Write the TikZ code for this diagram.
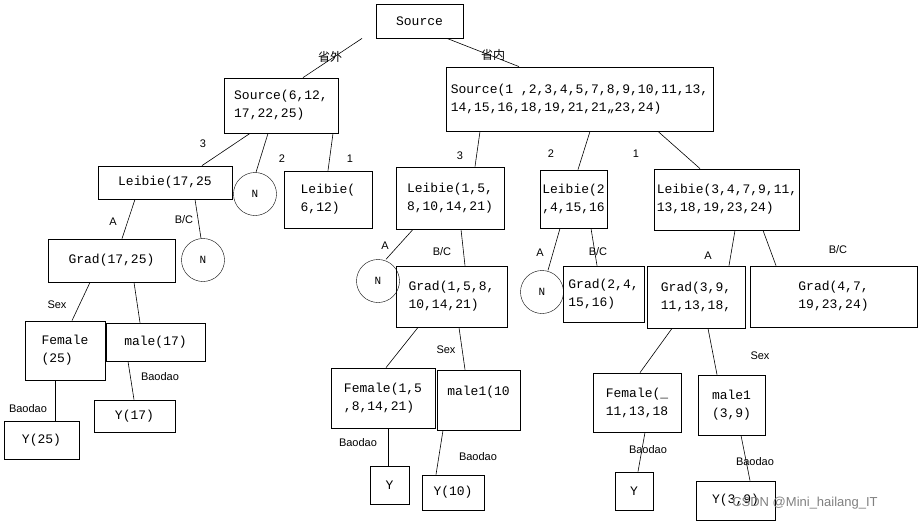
\documentclass[tikz,border=0pt]{standalone}
\usetikzlibrary{calc}
\usepackage{fontspec}
\setmainfont{Liberation Mono}
\newfontfamily\lab{Liberation Sans}
\newfontfamily\cjk{Noto Sans CJK SC}
\newcommand\bx[6]{%
 \pgfmathsetmacro\cxx{(#2+#4)/2}\pgfmathsetmacro\cyy{-(#3+#5)/2}%
 \pgfmathsetmacro\ww{#4-#2}\pgfmathsetmacro\hh{#5-#3}%
 \node[box,minimum width=\ww pt,minimum height=\hh pt] (#1) at (\cxx pt,\cyy pt) {#6};}
\newcommand\cir[3]{\node[cr] (#1) at (#2pt,-#3pt) {N};}
\newcommand\lb[3]{\node[lbl] at (#1pt,-#2pt) {#3};}
\newcommand\ed[4]{\draw[semithick] let \p1=(#1.south), \p2=(#3.north) in (#2pt,\y1) -- (#4pt,\y2);}
\begin{document}
\begin{tikzpicture}[x=1pt,y=1pt,
 box/.style={draw,thick,inner sep=2pt,align=left,font=\fontsize{13}{18}\selectfont},
 cr/.style={draw,circle,minimum size=43pt,inner sep=0pt,font=\fontsize{11}{13}\selectfont},
 lbl/.style={font=\lab\fontsize{11}{13}\selectfont}]
\useasboundingbox (0,0) rectangle (921,-523);
\bx{s}{376}{4}{463}{38}{Source}
\bx{so}{224}{78}{338}{133}{Source(6,12,\\17,22,25)}
\bx{si}{446}{67}{713}{131}{Source(1 ,2,3,4,5,7,8,9,10,11,13,\\14,15,16,18,19,21,21,,23,24)}
\bx{l1}{98}{166}{232}{199}{Leibie(17,25}
\cir{n1}{255}{194}
\bx{l2}{284}{171}{372}{228}{Leibie(\\6,12)}
\bx{l3}{396}{167}{504}{229}{Leibie(1,5,\\8,10,14,21)}
\bx{l4}{540}{170}{607}{228}{Leibie(2\\,4,15,16}
\bx{l5}{659}{169}{795}{230}{Leibie(3,4,7,9,11,\\13,18,19,23,24)}
\bx{g1}{48}{239}{175}{282}{Grad(17,25)}
\cir{n2}{203}{260}
\bx{f1}{25}{321}{105}{380}{Female\\(25)}
\bx{m1}{106}{323}{205}{361}{male(17)}
\bx{y1}{4}{421}{79}{459}{Y(25)}
\bx{y2}{94}{400}{175}{432}{Y(17)}
\cir{n3}{378}{281}
\bx{g2}{396}{266}{507}{327}{Grad(1,5,8,\\10,14,21)}
\cir{n4}{542}{292}
\bx{g3}{563}{266}{644}{322}{Grad(2,4,\\15,16)}
\bx{g4}{647}{266}{745}{328}{Grad(3,9,\\11,13,18,}
\bx{g5}{750}{266}{917}{327}{Grad(4,7,\\19,23,24)}
\bx{f2}{331}{368}{435}{428}{Female(1,5\\,8,14,21)}
\bx{m2}{437}{370}{520}{430}{male1(10\\~}
\bx{y3}{370}{466}{409}{504}{Y}
\bx{y4}{422}{475}{484}{510}{Y(10)}
\bx{f3}{593}{373}{681}{432}{Female(\_\\11,13,18}
\bx{m3}{698}{375}{765}{435}{male1\\(3,9)}
\bx{y5}{615}{472}{653}{510}{Y}
\bx{y6}{696}{481}{775}{520}{Y(3,9)}
\ed{s}{362}{so}{303}\ed{s}{447}{si}{519}
\ed{so}{250}{l1}{202}\ed{so}{268}{n1}{256}\ed{so}{333}{l2}{328}
\ed{si}{480}{l3}{475}\ed{si}{590}{l4}{578}\ed{si}{658}{l5}{700}
\ed{l1}{135}{g1}{122}\ed{l1}{195}{n2}{201}
\ed{g1}{90}{f1}{72}\ed{g1}{134}{m1}{140}
\ed{f1}{55}{y1}{55}\ed{m1}{128}{y2}{134}
\ed{l3}{413}{n3}{386}\ed{l3}{461}{g2}{465}
\ed{l4}{560}{n4}{548}\ed{l4}{591}{g3}{597}
\ed{l5}{735}{g4}{729}\ed{l5}{763}{g5}{776}
\ed{g2}{418}{f2}{386}\ed{g2}{459}{m2}{465}
\ed{f2}{388}{y3}{388}\ed{m2}{443}{y4}{436}
\ed{g4}{672}{f3}{640}\ed{g4}{708}{m3}{717}
\ed{f3}{645}{y5}{638}\ed{m3}{741}{y6}{750}
\node[font=\cjk\fontsize{12}{14}\selectfont] at (330,-57) {省外};
\node[font=\cjk\fontsize{12}{14}\selectfont] at (493,-55) {省内};
\lb{203}{144}{3}\lb{282}{159}{2}\lb{350}{159}{1}
\lb{460}{156}{3}\lb{551}{154}{2}\lb{636}{154}{1}
\lb{113}{222}{A}\lb{184}{220}{B/C}\lb{57}{305}{Sex}
\lb{160}{377}{Baodao}\lb{28}{409}{Baodao}
\lb{385}{246}{A}\lb{442}{252}{B/C}\lb{540}{253}{A}\lb{598}{252}{B/C}
\lb{708}{256}{A}\lb{838}{250}{B/C}\lb{446}{350}{Sex}
\lb{358}{443}{Baodao}\lb{478}{457}{Baodao}
\lb{760}{356}{Sex}\lb{648}{450}{Baodao}\lb{755}{462}{Baodao}
\node[font=\lab\fontsize{13}{15}\selectfont,text=gray] at (805,-503) {CSDN @Mini\_hailang\_IT};
\end{tikzpicture}
\end{document}
